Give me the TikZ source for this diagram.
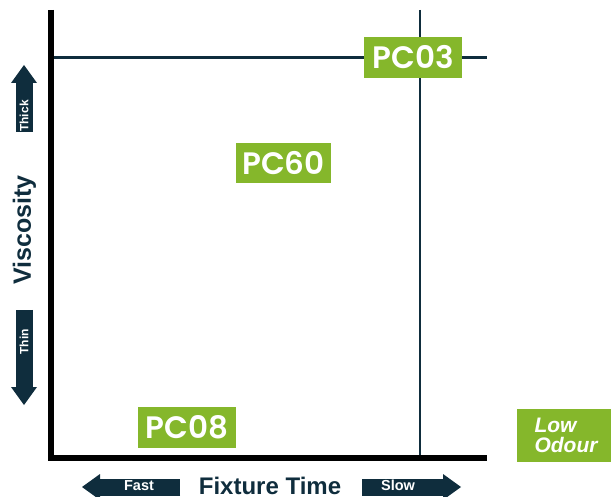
\documentclass[tikz,border=0pt]{standalone}
\usepackage{fontspec}
\setmainfont{Liberation Sans}
\IfFontExistsTF{Poppins SemiBold}
  {\newfontfamily\pcfont{Poppins SemiBold}}
  {\newfontfamily\pcfont{Poppins}[FakeBold=1.2]}
\usepackage{tikz}
\usetikzlibrary{arrows.meta,positioning}
\definecolor{pcgreen}{HTML}{85B72B}
\definecolor{navy}{HTML}{0F2D3D}

\begin{document}
\begin{tikzpicture}[
  x=1pt, y=-1pt,
  axis/.style={line width=6pt, black, line join=miter},
  guide/.style={line width=2.5pt, navy},
  pcbox/.style={fill=pcgreen, text=white, minimum width=98pt,
    minimum height=41pt, inner sep=0pt,
    font=\pcfont\fontsize{31}{31}\selectfont},
  bigarrow/.style={line width=17pt, navy,
    -{Triangle[width=26pt, length=18pt, line width=0pt]}},
  arrowtxt/.style={text=white, inner sep=0pt,
    font=\bfseries\fontsize{14.5}{14.5}\selectfont},
  sidetxt/.style={arrowtxt, rotate=90,
    font=\bfseries\fontsize{12}{12}\selectfont},
  title/.style={text=navy, inner sep=0pt,
    font=\bfseries\fontsize{24}{24}\selectfont},
]
  \useasboundingbox (0,0) rectangle (611,497);
  % Axes
  \coordinate (ytop) at (51,10);
  \coordinate (origin) at (51,458);
  \coordinate (xend) at (487,458);
  \draw[axis] (ytop) -- (origin) -- (xend);
  % Guide lines
  \coordinate (hl) at (54,57.5);
  \coordinate (hr) at (487,57.5);
  \coordinate (vt) at (420,10);
  \coordinate (vb) at (420,455);
  \draw[guide] (hl) -- (hr);
  \draw[guide] (vt) -- (vb);
  % Product boxes
  \node[pcbox] (pc03) at (413,57.5) {PC03};
  \node[pcbox, minimum width=95pt, minimum height=40pt]
    (pc60) at (283.5,163) {PC60};
  \node[pcbox] (pc08) at (187,427.5) {PC08};
  \node[pcbox, minimum height=53pt, align=left,
    font=\bfseries\itshape\fontsize{21}{20}\selectfont]
    (odour) at (566,435.5) {Low\\Odour};
  % Viscosity arrows
  \coordinate (thickbase) at (24,132);
  \coordinate (thicktip) at (24,65);
  \draw[bigarrow] (thickbase) -- (thicktip);
  \node[sidetxt] (thick) at (24,116) {Thick};
  \coordinate (thinbase) at (24,310);
  \coordinate (thintip) at (24,405);
  \draw[bigarrow] (thinbase) -- (thintip);
  \node[sidetxt] (thin) at (24,342) {Thin};
  \node[title, rotate=90, font=\bfseries\fontsize{25}{25}\selectfont]
    (visc) at (24.5,230) {Viscosity};
  % Fixture time arrows
  \coordinate (fastbase) at (180,487);
  \coordinate (fasttip) at (82,487);
  \draw[bigarrow] (fastbase) -- (fasttip);
  \node[arrowtxt] (fast) at (139,485.5) {Fast};
  \coordinate (slowbase) at (362,487);
  \coordinate (slowtip) at (461,487);
  \draw[bigarrow] (slowbase) -- (slowtip);
  \node[arrowtxt] (slow) at (398,485.5) {Slow};
  \node[title] (fixture) at (270,486) {Fixture Time};
\end{tikzpicture}
\end{document}
